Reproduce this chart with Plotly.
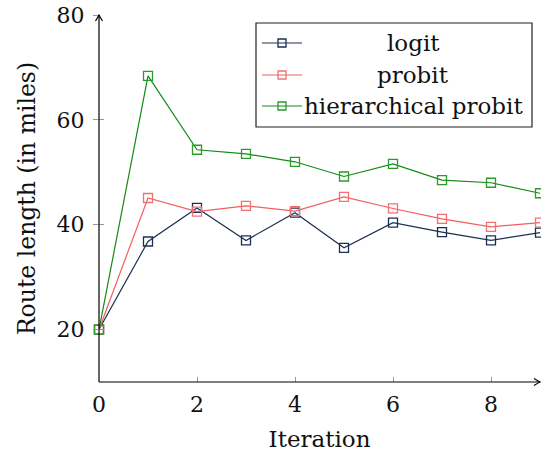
import plotly.graph_objects as go

# Route length per iteration for each choice model
iterations = [0, 1, 2, 3, 4, 5, 6, 7, 8, 9]
logit = [20.0, 36.8, 43.2, 37.0, 42.3, 35.6, 40.4, 38.6, 37.0, 38.5]
probit = [20.0, 45.1, 42.5, 43.6, 42.6, 45.3, 43.1, 41.1, 39.6, 40.4]
hier_probit = [20.0, 68.4, 54.3, 53.5, 52.0, 49.2, 51.6, 48.5, 48.0, 46.0]

series_names = ["logit", "probit", "hierarchical probit"]
line_colors = ["#1b3050", "#f25e5e", "#138a13"]
marker_colors = ["#1b3050", "#f47070", "#2a9a2a"]

y_ticks = [20, 40, 60, 80]
x_ticks = [0, 2, 4, 6, 8]

FONT = "DejaVu Serif"
W, H = 541, 455
ML, MR, MT, MB = 99, 1, 15, 73
PW, PH = W - ML - MR, H - MT - MB


def px_to_paper(px, py):
    return (px - ML) / PW, (H - MB - py) / PH


fig = go.Figure()
for name, ys, lc, mc in zip(series_names, [logit, probit, hier_probit], line_colors, marker_colors):
    fig.add_trace(go.Scatter(
        x=iterations, y=ys, name=name, mode="lines+markers",
        line=dict(color=lc, width=1.2),
        marker=dict(symbol="square-open", size=9, color=mc, line=dict(width=1.3, color=mc)),
        cliponaxis=False, showlegend=False,
    ))

shapes = []
annotations = []

# axis lines, with arrow heads at their far ends
axis_line = dict(color="#000000", width=1.2)
shapes.append(dict(type="line", xref="paper", yref="paper", x0=0, x1=1.0, y0=0, y1=0,
                   line=axis_line, layer="above"))
shapes.append(dict(type="line", xref="paper", yref="paper", x0=0, x1=0, y0=0, y1=1.0,
                   line=axis_line, layer="above"))
shapes.append(dict(type="path", xref="paper", yref="paper", xsizemode="pixel", ysizemode="pixel",
                   xanchor=1.0, yanchor=0, path="M -6 -3.5 Q -2 -1 0 0 Q -2 1 -6 3.5",
                   line=axis_line, layer="above"))
shapes.append(dict(type="path", xref="paper", yref="paper", xsizemode="pixel", ysizemode="pixel",
                   xanchor=0, yanchor=1.0, path="M -3.5 -6 Q -1 -2 0 0 Q 1 -2 3.5 -6",
                   line=axis_line, layer="above"))

# hand-built legend box with centered labels
bx0, by0 = px_to_paper(256, 127)
bx1, by1 = px_to_paper(532, 23)
shapes.append(dict(type="rect", xref="paper", yref="paper", x0=bx0, y0=by0, x1=bx1, y1=by1,
                   line=dict(color="#222222", width=1.2), fillcolor="white", layer="above"))
row_y = [43, 75, 106]
for name, lc, mc, ry in zip(series_names, line_colors, marker_colors, row_y):
    lx0, ly = px_to_paper(262, ry)
    lx1, _ = px_to_paper(302, ry)
    shapes.append(dict(type="line", xref="paper", yref="paper", x0=lx0, x1=lx1, y0=ly, y1=ly,
                       line=dict(color=lc, width=1.2), layer="above"))
    mx0, my0 = px_to_paper(278, ry + 4)
    mx1, my1 = px_to_paper(286, ry - 4)
    shapes.append(dict(type="rect", xref="paper", yref="paper", x0=mx0, x1=mx1, y0=my0, y1=my1,
                       line=dict(color=mc, width=1.3), fillcolor="rgba(0,0,0,0)", layer="above"))
    tx, ty = px_to_paper(413, ry)
    annotations.append(dict(xref="paper", yref="paper", x=tx, y=ty, text=name, showarrow=False,
                            xanchor="center", yanchor="middle",
                            font=dict(family=FONT, size=23, color="#111111")))

fig.update_layout(
    width=W, height=H,
    margin=dict(l=ML, r=MR, t=MT, b=MB),
    paper_bgcolor="white", plot_bgcolor="white",
    font=dict(family=FONT, size=22, color="#111111"),
    shapes=shapes, annotations=annotations,
    xaxis=dict(range=[0, 9], tickvals=x_ticks, ticks="inside", ticklen=5, tickcolor="#999999",
               showgrid=False, zeroline=False, showline=False, ticklabelstandoff=7,
               tickfont=dict(family=FONT, size=22),
               title=dict(text="Iteration", font=dict(family=FONT, size=23), standoff=14)),
    yaxis=dict(range=[10, 80], tickvals=y_ticks, ticks="outside", ticklen=5, tickcolor="#999999",
               showgrid=False, zeroline=False, showline=False, ticklabelstandoff=4,
               tickfont=dict(family=FONT, size=22),
               title=dict(text="Route length (in miles)", font=dict(family=FONT, size=23.5), standoff=14)),
    yaxis2=dict(range=[10, 80], tickvals=y_ticks, ticks="inside", ticklen=5, tickcolor="#999999",
                showticklabels=False, showgrid=False, zeroline=False, showline=False,
                overlaying="y", side="left"),
)
# invisible trace to bring the inner-tick axis into the figure
fig.add_trace(go.Scatter(x=[None], y=[None], yaxis="y2", showlegend=False, hoverinfo="skip"))

fig.write_html("out.html")
